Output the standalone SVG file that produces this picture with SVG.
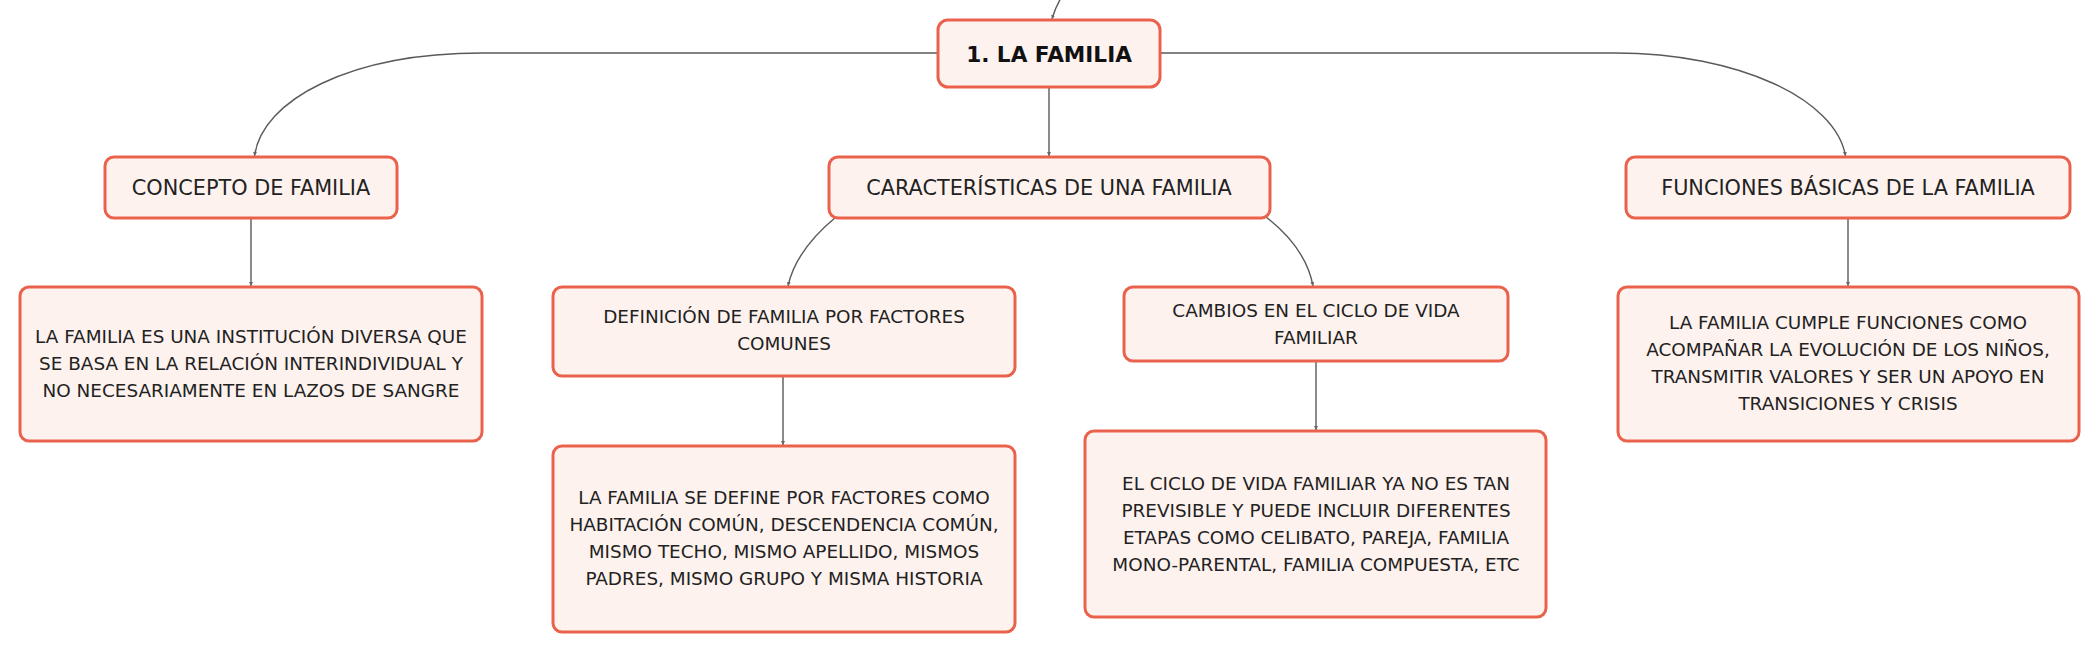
<svg xmlns="http://www.w3.org/2000/svg" width="2100" height="652" viewBox="0 0 2100 652">
<defs>
<marker id="arr" viewBox="0 0 8 8" refX="8" refY="4" markerWidth="4" markerHeight="4" markerUnits="userSpaceOnUse" orient="auto">
<path d="M0,0 L8,4 L0,8 z" fill="#666"/>
</marker>
</defs>
<style>
.box{fill:#FEF2EF;stroke:#EA624C;stroke-width:3}
.t{font-family:"DejaVu Sans",sans-serif;fill:#222;text-anchor:middle}
.l1{font-size:20.8px}
.l2{font-size:18.4px}
.root{font-size:21.6px;font-weight:bold;fill:#111}
.c{fill:none;stroke:#5a5a5a;stroke-width:1.4;marker-end:url(#arr)}
</style>
<rect width="2100" height="652" fill="#fff"/>
<g id="connectors">
<path class="c" d="M1061,-2 Q1055,8 1052,19"/>
<path class="c" d="M938,53 H482 C350,53 262,100 254.5,156"/>
<path class="c" d="M1160,53 H1615 C1740,53 1836,100 1845.5,156"/>
<path class="c" d="M1049,87 V156"/>
<path class="c" d="M251,218 V286"/>
<path class="c" d="M836,217 Q796,250 788,286"/>
<path class="c" d="M1266,217 Q1306,248 1313,286"/>
<path class="c" d="M1848,218 V286"/>
<path class="c" d="M783,376 V445"/>
<path class="c" d="M1316,361 V430"/>
</g>
<g id="root">
<rect class="box" x="938" y="20" width="222" height="67" rx="10"/>
<text class="t root" x="1049" y="62">1. LA FAMILIA</text>
</g>
<g id="concepto">
<rect class="box" x="105" y="157" width="292" height="61" rx="9"/>
<text class="t l1" x="251" y="195">CONCEPTO DE FAMILIA</text>
</g>
<g id="caracteristicas">
<rect class="box" x="829" y="157" width="441" height="61" rx="9"/>
<text class="t l1" x="1049" y="195">CARACTERÍSTICAS DE UNA FAMILIA</text>
</g>
<g id="funciones">
<rect class="box" x="1626" y="157" width="444" height="61" rx="9"/>
<text class="t l1" x="1848" y="195">FUNCIONES BÁSICAS DE LA FAMILIA</text>
</g>
<g id="concepto-texto">
<rect class="box" x="20" y="287" width="462" height="154" rx="9"/>
<text class="t l2" x="251" y="342.5">LA FAMILIA ES UNA INSTITUCIÓN DIVERSA QUE</text>
<text class="t l2" x="251" y="369.5">SE BASA EN LA RELACIÓN INTERINDIVIDUAL Y</text>
<text class="t l2" x="251" y="396.5">NO NECESARIAMENTE EN LAZOS DE SANGRE</text>
</g>
<g id="definicion">
<rect class="box" x="553" y="287" width="462" height="89" rx="9"/>
<text class="t l2" x="784" y="323">DEFINICIÓN DE FAMILIA POR FACTORES</text>
<text class="t l2" x="784" y="350">COMUNES</text>
</g>
<g id="cambios">
<rect class="box" x="1124" y="287" width="384" height="74" rx="9"/>
<text class="t l2" x="1316" y="316.5">CAMBIOS EN EL CICLO DE VIDA</text>
<text class="t l2" x="1316" y="343.5">FAMILIAR</text>
</g>
<g id="funciones-texto">
<rect class="box" x="1618" y="287" width="461" height="154" rx="9"/>
<text class="t l2" x="1848" y="329">LA FAMILIA CUMPLE FUNCIONES COMO</text>
<text class="t l2" x="1848" y="356">ACOMPAÑAR LA EVOLUCIÓN DE LOS NIÑOS,</text>
<text class="t l2" x="1848" y="383">TRANSMITIR VALORES Y SER UN APOYO EN</text>
<text class="t l2" x="1848" y="410">TRANSICIONES Y CRISIS</text>
</g>
<g id="factores-texto">
<rect class="box" x="553" y="446" width="462" height="186" rx="9"/>
<text class="t l2" x="784" y="504">LA FAMILIA SE DEFINE POR FACTORES COMO</text>
<text class="t l2" x="784" y="531">HABITACIÓN COMÚN, DESCENDENCIA COMÚN,</text>
<text class="t l2" x="784" y="558">MISMO TECHO, MISMO APELLIDO, MISMOS</text>
<text class="t l2" x="784" y="585">PADRES, MISMO GRUPO Y MISMA HISTORIA</text>
</g>
<g id="ciclo-texto">
<rect class="box" x="1085" y="431" width="461" height="186" rx="9"/>
<text class="t l2" x="1316" y="489.5">EL CICLO DE VIDA FAMILIAR YA NO ES TAN</text>
<text class="t l2" x="1316" y="516.5">PREVISIBLE Y PUEDE INCLUIR DIFERENTES</text>
<text class="t l2" x="1316" y="543.5">ETAPAS COMO CELIBATO, PAREJA, FAMILIA</text>
<text class="t l2" x="1316" y="570.5">MONO-PARENTAL, FAMILIA COMPUESTA, ETC</text>
</g>
</svg>
